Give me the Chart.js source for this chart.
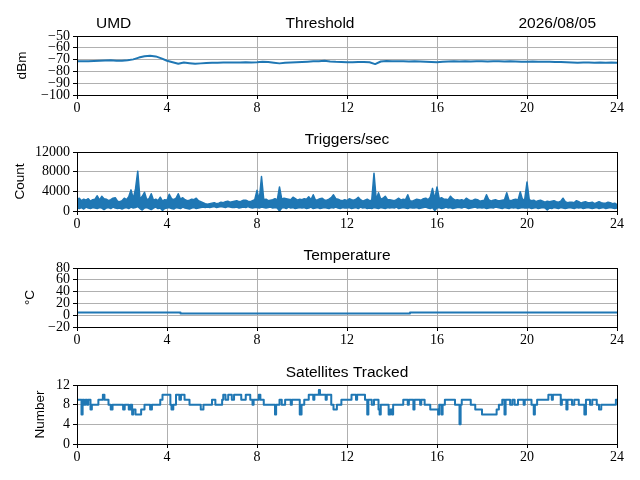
<!DOCTYPE html>
<html>
<head>
<meta charset="utf-8">
<title>UMD monitor</title>
<script src="https://cdn.jsdelivr.net/npm/chart.js@4.4.1/dist/chart.umd.min.js"></script>
<style>
  body { margin: 0; background: #fff; }
  #fig { position: relative; width: 640px; height: 480px; background: #fff; }
  #fig canvas { position: absolute; left: 0; }
</style>
</head>
<body>
<div id="fig">
  <canvas id="thresholdChart" width="640" height="120" style="top:0px"></canvas>
  <canvas id="triggerChart" width="640" height="116" style="top:120px"></canvas>
  <canvas id="tempChart" width="640" height="116" style="top:236px"></canvas>
  <canvas id="satChart" width="640" height="117" style="top:352px"></canvas>
</div>
<script>
// x axis (hours of the day)
const hourTicks = [0, 4, 8, 12, 16, 20, 24];

// Threshold (dBm), one sample every 0.25 h
const thresholdStep = 0.25;
const thresholdDbm = [
  -71.5, -71.3, -71.4, -71.2, -71.0, -70.8, -70.6, -70.9, -71.0, -70.6, -69.8, -68.3,
  -67.2, -66.8, -67.3, -69.0, -71.0, -72.3, -73.5, -72.4, -73.0, -73.6, -73.2, -72.8,
  -72.6, -72.6, -72.5, -72.5, -72.4, -72.5, -72.3, -72.4, -72.2, -71.8, -72.0, -72.6,
  -73.2, -72.6, -72.5, -72.3, -72.0, -71.8, -71.5, -71.3, -71.0, -71.6, -71.9, -72.0,
  -72.2, -72.3, -72.1, -72.0, -72.3, -73.8, -71.6, -71.2, -71.3, -71.5, -71.4, -71.6,
  -71.5, -71.7, -71.8, -72.0, -72.3, -71.8, -71.6, -71.5, -71.6, -71.5, -71.6, -71.5,
  -71.4, -71.6, -71.5, -71.4, -71.6, -71.5, -71.7, -71.8, -71.9, -71.7, -71.8, -71.9,
  -71.8, -72.0, -72.1, -72.3, -72.5, -72.6, -72.5, -72.4, -72.6, -72.5, -72.6, -72.5,
  -72.6
];
const thresholdTicks = [-100, -90, -80, -70, -60, -50];

// Triggers per second: highest and lowest count in each 0.1 h slot
const triggerStep = 0.1;
const triggerMax = [
  2300, 2600, 2100, 2400, 2200, 2500, 2000, 2300, 2400, 3100,
  2200, 3000, 2500, 2400, 2100, 2300, 2600, 2700, 2000, 1900,
  2100, 2600, 2300, 2900, 4300, 2500, 4500, 8100, 2400, 3000,
  3800, 2300, 2500, 3500, 2200, 2400, 2100, 2800, 2000, 2300,
  2200, 3400, 2500, 2300, 2600, 3500, 2400, 2700, 2300, 2100,
  2200, 2400, 2300, 2600, 2100, 1900, 1700, 1500, 1400, 1500,
  1600, 1700, 1500, 1600, 1800, 1700, 1900, 2000, 1800, 1900,
  2000, 2100, 1900, 2000, 2200, 2200, 2000, 1900, 2100, 2300,
  4200, 2200, 7000, 2300, 2400, 2100, 2200, 2300, 2500, 2200,
  4900, 2400, 2600, 2500, 2400, 2300, 2800, 2500, 2200, 2400,
  2300, 2500, 2400, 2900, 2300, 3300, 2200, 2300, 2500, 2600,
  2200, 2200, 2400, 2700, 3300, 2500, 2400, 2200, 2100, 2300,
  2100, 2500, 2300, 2200, 2400, 2800, 2300, 2000, 2200, 2400,
  2100, 2200, 7700, 2300, 3700, 2400, 2600, 3000, 2300, 2300,
  2200, 2100, 2300, 2600, 2200, 2400, 2300, 3300, 2100, 2000,
  2200, 2400, 2300, 2200, 2500, 2600, 2300, 2800, 4600, 2400,
  4900, 2500, 2700, 2400, 2400, 2300, 3000, 2500, 2200, 2300,
  2200, 2300, 2100, 2600, 2300, 2100, 2200, 2400, 2300, 2000,
  2100, 2200, 3300, 2300, 2000, 2200, 2300, 2100, 2100, 2200,
  2300, 3700, 2200, 2100, 2300, 2400, 2200, 3900, 2300, 2400,
  5900, 2300, 2100, 2200, 1900, 2100, 2200, 2000, 1800, 2000,
  1900, 2000, 2100, 1900, 1800, 2000, 2600, 1900, 1700, 1800,
  1800, 1700, 2100, 1900, 1600, 1800, 1900, 1700, 1700, 1800,
  1500, 1700, 1900, 1700, 1600, 1600, 1800, 1700, 1500, 1600,
  1300
];
const triggerMin = [
  600, 500, 700, 400, 800, 600, 500, 700, 600, 500,
  700, 600, 300, 600, 700, 500, 800, 600, 500, 600,
  400, 600, 700, 500, 800, 600, 700, 900, 500, 200,
  600, 700, 500, 300, 600, 800, 500, 600, 100, 500,
  600, 700, 500, 400, 700, 600, 500, 800, 600, 500,
  400, 600, 700, 500, 600, 700, 800, 700, 800, 700,
  800, 900, 700, 800, 900, 800, 700, 900, 800, 700,
  700, 800, 600, 700, 800, 700, 900, 700, 600, 700,
  700, 600, 800, 700, 600, 700, 800, 600, 700, 600,
  0, 600, 700, 500, 800, 600, 700, 500, 600, 700,
  600, 700, 500, 600, 800, 500, 600, 700, 500, 600,
  700, 600, 500, 700, 600, 800, 600, 500, 700, 600,
  600, 700, 500, 600, 700, 500, 800, 600, 700, 500,
  600, 500, 700, 600, 500, 700, 600, 500, 700, 600,
  700, 600, 800, 500, 600, 700, 600, 500, 700, 600,
  600, 700, 500, 600, 700, 800, 600, 500, 700, 100,
  600, 700, 500, 600, 800, 600, 700, 500, 600, 700,
  700, 600, 800, 700, 500, 600, 700, 800, 600, 700,
  600, 700, 500, 600, 700, 600, 800, 700, 600, 500,
  700, 600, 500, 700, 600, 700, 500, 600, 700, 600,
  600, 700, 500, 600, 700, 500, 600, 700, 600, 200,
  600, 500, 700, 600, 500, 700, 600, 500, 600, 700,
  600, 500, 700, 600, 700, 500, 600, 700, 600, 500,
  600, 700, 500, 600, 700, 500, 600, 700, 600, 500,
  600
];
const triggerTicks = [0, 4000, 8000, 12000];

// Temperature (°C): value holds from each time until the next one
const tempHours = [0, 4.6, 14.8, 24];
const tempValues = [4.5, 3, 4.5, 4.5];
const tempTicks = [-20, 0, 20, 40, 60, 80];

// Satellites tracked: value holds from each time until the next one
const satHours = [
  0.0, 0.2, 0.25, 0.32, 0.38, 0.45, 0.5, 0.6, 0.66, 0.95, 1.15, 1.22, 1.4, 1.5, 1.58,
  2.05, 2.12, 2.3, 2.38, 2.45, 2.5, 2.6, 2.85, 3.0, 3.25, 3.33, 3.7, 3.8, 4.15, 4.2,
  4.28, 4.4, 4.55, 4.62, 4.78, 5.0, 5.5, 5.62, 6.0, 6.15, 6.45, 6.5, 6.6, 6.72, 6.88,
  6.98, 7.3, 7.5, 7.7, 7.8, 7.85, 8.08, 8.15, 8.3, 8.8, 8.85, 9.0, 9.1, 9.25, 9.5,
  9.55, 9.9, 9.98, 10.1, 10.3, 10.5, 10.55, 10.75, 10.8, 11.05, 11.1, 11.3, 11.4, 11.55, 11.75,
  12.2, 12.4, 12.45, 12.8, 12.9, 12.95, 13.1, 13.2, 13.4, 13.45, 13.5, 13.85, 13.92, 14.0,
  14.05, 14.5, 14.7, 14.75, 14.95, 15.0, 15.25, 15.3, 15.45, 15.7, 16.05, 16.1, 16.2, 16.25,
  16.35, 16.8, 17.0, 17.05, 17.1, 17.5, 17.7, 18.0, 18.65, 18.75, 18.9, 19.0, 19.05, 19.25,
  19.35, 19.45, 19.6, 19.85, 19.9, 20.2, 20.3, 20.35, 20.45, 20.95, 21.1, 21.15, 21.5, 21.55,
  21.75, 21.8, 22.0, 22.1, 22.3, 22.55, 22.62, 22.8, 22.9, 23.1, 23.2, 23.3, 23.95, 24.0
];
const satCounts = [
  9, 6, 9, 8, 9, 8, 9, 7, 8, 9, 10, 9, 8, 7, 8,
  7, 8, 7, 8, 6, 7, 6, 7, 8, 7, 8, 9, 10, 8, 7,
  8, 10, 9, 10, 9, 8, 7, 8, 9, 8, 9, 10, 9, 10, 9,
  10, 9, 10, 9, 8, 9, 10, 9, 8, 6, 8, 9, 8, 9, 8,
  9, 6, 8, 9, 10, 9, 10, 11, 10, 9, 10, 8, 7, 8, 9,
  10, 9, 10, 9, 6, 9, 8, 9, 7, 6, 8, 6, 7, 6,
  8, 9, 8, 9, 7, 9, 8, 9, 8, 7, 6, 8, 6, 8,
  9, 8, 4, 8, 9, 8, 7, 6, 7, 8, 9, 6, 9, 8,
  9, 8, 9, 8, 9, 8, 6, 8, 9, 10, 9, 10, 8, 9,
  7, 9, 8, 9, 8, 6, 9, 8, 9, 8, 7, 8, 9, 9
];
const satTicks = [0, 4, 8, 12];

const lineColor = '#1f77b4';
const gridColor = '#b0b0b0';
const tickFont = { family: 'Liberation Serif', size: 14 };

function formatTick(v) {
  return v < 0 ? '\u2212' + Math.abs(v) : String(v);
}

function sampled(step, values) {
  return values.map((v, i) => ({ x: i * step, y: v }));
}

function paired(xs, ys) {
  return xs.map((x, i) => ({ x: x, y: ys[i] }));
}

function lineSet(points, width, stepped) {
  return {
    data: points,
    borderColor: lineColor,
    backgroundColor: lineColor,
    borderWidth: width,
    borderJoinStyle: 'round',
    pointRadius: 0,
    fill: false,
    tension: 0,
    stepped: stepped
  };
}

// frame box, subplot title and y label
const figureText = {
  id: 'figureText',
  afterDraw(chart, args, opts) {
    const { ctx, chartArea } = chart;
    ctx.save();
    ctx.strokeStyle = '#000';
    ctx.lineWidth = 1;
    ctx.strokeRect(chartArea.left + 0.5, chartArea.top + 0.5, chartArea.width, chartArea.height);

    ctx.fillStyle = '#000';
    ctx.textBaseline = 'alphabetic';
    ctx.font = '15.5px "Liberation Sans"';
    const baseY = chartArea.top - 8.5;
    (opts.titles || []).forEach(t => {
      ctx.textAlign = t.align || 'center';
      const x = t.x !== undefined ? t.x : (chartArea.left + chartArea.right) / 2;
      ctx.fillText(t.text, x, baseY);
    });

    if (opts.yLabel) {
      ctx.translate(opts.yLabelX, (chartArea.top + chartArea.bottom) / 2);
      ctx.rotate(-Math.PI / 2);
      ctx.textAlign = 'center';
      ctx.textBaseline = 'middle';
      ctx.font = '13.5px "Liberation Sans"';
      ctx.fillText(opts.yLabel, 0, 0);
    }
    ctx.restore();
  }
};

function makeChart(canvasId, datasets, yTicks, padTop, texts) {
  const ctx = document.getElementById(canvasId).getContext('2d');
  return new Chart(ctx, {
    type: 'line',
    data: { datasets: datasets },
    options: {
      responsive: false,
      animation: false,
      devicePixelRatio: 1,
      events: [],
      layout: { padding: { top: padTop, right: 23, left: 0, bottom: 0 } },
      plugins: {
        legend: { display: false },
        tooltip: { enabled: false },
        figureText: texts
      },
      scales: {
        x: {
          type: 'linear',
          min: hourTicks[0],
          max: hourTicks[hourTicks.length - 1],
          afterBuildTicks: s => { s.ticks = hourTicks.map(v => ({ value: v })); },
          afterFit: s => { s.height = 25; },
          border: { display: false },
          grid: { color: gridColor, lineWidth: 1, tickColor: '#000', tickLength: 4, tickWidth: 1 },
          ticks: { font: tickFont, color: '#000', padding: 1, maxRotation: 0, autoSkip: false, callback: formatTick }
        },
        y: {
          type: 'linear',
          min: yTicks[0],
          max: yTicks[yTicks.length - 1],
          afterBuildTicks: s => { s.ticks = yTicks.map(v => ({ value: v })); },
          afterFit: s => { s.width = 77; },
          border: { display: false },
          grid: { color: gridColor, lineWidth: 1, tickColor: '#000', tickLength: 4, tickWidth: 1 },
          ticks: { font: tickFont, color: '#000', padding: 3, autoSkip: false, callback: formatTick }
        }
      }
    },
    plugins: [figureText]
  });
}

makeChart('thresholdChart', [lineSet(sampled(thresholdStep, thresholdDbm), 2, false)], thresholdTicks, 36, {
  titles: [
    { text: 'UMD', align: 'left', x: 96 },
    { text: 'Threshold', align: 'center', x: 320 },
    { text: '2026/08/05', align: 'right', x: 596 }
  ],
  yLabel: 'dBm', yLabelX: 22
});

// the trigger trace is so dense that it reads as a band between the slot max and min
const triggerTop = lineSet(sampled(triggerStep, triggerMax), 1.5, false);
triggerTop.fill = '+1';
const triggerBottom = lineSet(sampled(triggerStep, triggerMin), 1.5, false);
makeChart('triggerChart', [triggerTop, triggerBottom], triggerTicks, 32, {
  titles: [{ text: 'Triggers/sec' }],
  yLabel: 'Count', yLabelX: 20
});

makeChart('tempChart', [lineSet(paired(tempHours, tempValues), 2, true)], tempTicks, 32, {
  titles: [{ text: 'Temperature' }],
  yLabel: '\u00B0C', yLabelX: 30
});

makeChart('satChart', [lineSet(paired(satHours, satCounts), 2, true)], satTicks, 33, {
  titles: [{ text: 'Satellites Tracked' }],
  yLabel: 'Number', yLabelX: 40
});
</script>
</body>
</html>
